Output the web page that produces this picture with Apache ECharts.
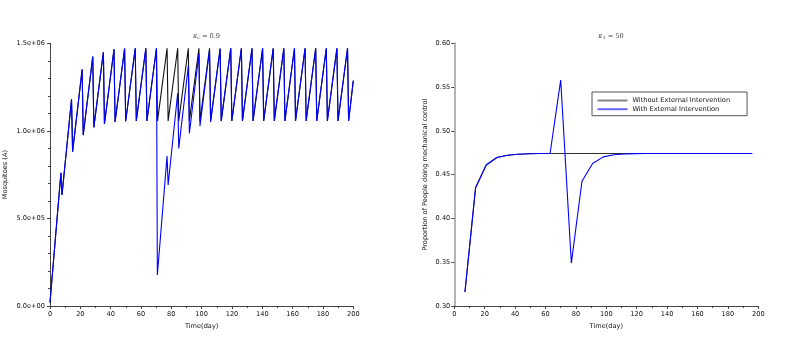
<!DOCTYPE html>
<html>
<head>
<meta charset="utf-8">
<script src="https://cdn.jsdelivr.net/npm/echarts@6/dist/echarts.min.js"></script>
<style>html,body{margin:0;padding:0;background:#fff}#c{width:809px;height:350px}</style>
</head>
<body>
<div id="c"></div>
<script>
// ---- Left panel: Mosquitoes (A) ----
var mosqDays = [0, 7.2, 7.9, 14.2, 14.9, 21.2, 21.9, 28.2, 28.9, 35.2, 35.9, 42.2, 42.9, 49.2, 49.9,
  56.2, 56.9, 63.2, 63.9, 70.2, 70.9, 77.2, 77.9, 84.2, 84.9, 91.2, 91.9, 98.2, 98.9, 105.2, 105.9,
  112.2, 112.9, 119.2, 119.9, 126.2, 126.9, 133.2, 133.9, 140.2, 140.9, 147.2, 147.9, 154.2, 154.9,
  161.2, 161.9, 168.2, 168.9, 175.2, 175.9, 182.2, 182.9, 189.2, 189.9, 196.2, 196.9, 200];
var mosqWithout = [20000, 761000, 634000, 1180000, 881000, 1351000, 976000, 1424000, 1020000, 1450000, 1039000, 1466000, 1051000, 1470000, 1055000,
  1472000, 1057000, 1472000, 1057000, 1472000, 1057000, 1472000, 1057000, 1472000, 1057000, 1472000, 1057000, 1472000, 1057000, 1472000, 1057000,
  1472000, 1057000, 1472000, 1057000, 1472000, 1057000, 1472000, 1057000, 1472000, 1057000, 1472000, 1057000, 1472000, 1057000,
  1472000, 1057000, 1472000, 1057000, 1472000, 1057000, 1472000, 1057000, 1472000, 1057000, 1472000, 1057000, 1287000];
var mosqWithDays = [0, 7.2, 7.9, 14.2, 14.9, 21.2, 21.9, 28.2, 28.9, 35.2, 35.9, 42.2, 42.9, 49.2, 49.9,
  56.2, 56.9, 63.2, 63.9, 70.2, 70.8, 77.2, 77.9, 84.2, 84.9, 91.2, 91.9, 98.2, 98.9, 105.2, 105.9,
  112.2, 112.9, 119.2, 119.9, 126.2, 126.9, 133.2, 133.9, 140.2, 140.9, 147.2, 147.9, 154.2, 154.9,
  161.2, 161.9, 168.2, 168.9, 175.2, 175.9, 182.2, 182.9, 189.2, 189.9, 196.2, 196.9, 200];
var mosqWith = [20000, 761000, 634000, 1180000, 881000, 1351000, 976000, 1424000, 1020000, 1450000, 1039000, 1466000, 1051000, 1470000, 1055000,
  1472000, 1057000, 1472000, 1057000, 1472000, 177000, 857000, 691000, 1215000, 900000, 1370000, 986000, 1440000, 1028000, 1460000, 1050000,
  1468000, 1056000, 1472000, 1057000, 1472000, 1057000, 1472000, 1057000, 1472000, 1057000, 1472000, 1057000, 1472000, 1057000,
  1472000, 1057000, 1472000, 1057000, 1472000, 1057000, 1472000, 1057000, 1472000, 1057000, 1472000, 1057000, 1287000];

// ---- Right panel: proportion doing mechanical control ----
var propDays = [7, 14, 21, 28, 35, 42, 49, 56, 63, 70, 77, 84, 91, 98, 105, 112, 119, 126, 133, 140,
  147, 154, 161, 168, 175, 182, 189, 196];
var propWithout = [0.316, 0.435, 0.461, 0.4695, 0.4722, 0.4733, 0.4738, 0.4741, 0.4742, 0.4742, 0.4742, 0.4742, 0.4742, 0.4742,
  0.4742, 0.4742, 0.4742, 0.4742, 0.4742, 0.4742, 0.4742, 0.4742, 0.4742, 0.4742, 0.4742, 0.4742, 0.4742, 0.4742];
var propWith = [0.316, 0.435, 0.461, 0.4695, 0.4722, 0.4733, 0.4738, 0.4741, 0.4742, 0.558, 0.349, 0.4425, 0.4628, 0.4703,
  0.4727, 0.4736, 0.474, 0.4742, 0.4742, 0.4742, 0.4742, 0.4742, 0.4742, 0.4742, 0.4742, 0.4742, 0.4742, 0.4742];

var xTicks = [0, 20, 40, 60, 80, 100, 120, 140, 160, 180, 200];
var leftYTicks = [0, 500000, 1000000, 1500000];
var rightYTicks = [0.30, 0.35, 0.40, 0.45, 0.50, 0.55, 0.60];
var legendNames = ['Without External Intervention', 'With External Intervention'];

function pairs(xs, ys) { return xs.map(function (x, i) { return [x, ys[i]]; }); }
function sciFmt(v) {
  return v.toExponential(1).replace(/e([+-])(\d)$/, 'e$10$2');
}

var FONT = 'DejaVu Sans';
var FS = 6.6;
var labelStyle = { fontFamily: FONT, fontSize: FS, color: '#111' };

function xAxisCfg(gi) {
  return {
    type: 'value', gridIndex: gi, min: xTicks[0], max: xTicks[xTicks.length - 1], interval: xTicks[1] - xTicks[0],
    name: 'Time(day)', nameLocation: 'middle', nameGap: 17,
    nameTextStyle: { fontFamily: FONT, fontSize: FS, color: '#111', verticalAlign: 'top' },
    axisLine: { show: true, lineStyle: { color: '#444', width: 1 } },
    axisTick: { show: true, length: 3, lineStyle: { color: '#444' } },
    minorTick: { show: true, splitNumber: 2, length: 2, lineStyle: { color: '#444' } },
    splitLine: { show: false },
    axisLabel: Object.assign({ margin: 5 }, labelStyle)
  };
}

var option = {
  animation: false,
  backgroundColor: '#fff',
  title: [
    { text: '{i|κ}{s|c} = 0.9', left: 201.5, top: 27, textAlign: 'center',
      textStyle: { fontFamily: 'DejaVu Serif', fontSize: FS, color: '#444', fontWeight: 'normal',
        rich: { i: { fontFamily: 'DejaVu Serif', fontStyle: 'italic', fontSize: FS, color: '#444' },
                s: { fontFamily: 'DejaVu Serif', fontStyle: 'italic', fontSize: 4.5, color: '#444', verticalAlign: 'bottom', padding: [3, 0, 0, 0] } } } },
    { text: '{i|κ}{s|1} = 50', left: 606, top: 27, textAlign: 'center',
      textStyle: { fontFamily: 'DejaVu Serif', fontSize: FS, color: '#444', fontWeight: 'normal',
        rich: { i: { fontFamily: 'DejaVu Serif', fontStyle: 'italic', fontSize: FS, color: '#444' },
                s: { fontFamily: 'DejaVu Serif', fontSize: 4.5, color: '#444', verticalAlign: 'bottom', padding: [3, 0, 0, 0] } } } }
  ],
  legend: {
    data: legendNames,
    orient: 'vertical',
    left: 592, top: 92,
    padding: [5, 17, 3, 4.5],
    itemWidth: 30, itemHeight: 7, itemGap: 1.7,
    backgroundColor: '#fff', borderColor: '#555', borderWidth: 1, borderRadius: 0,
    textStyle: { fontFamily: FONT, fontSize: FS, color: '#111' },
    itemStyle: { opacity: 0 },
    lineStyle: { width: 2, opacity: 0.6 },
    selectedMode: false
  },
  grid: [
    { left: 50, right: 455.7, top: 43.3, bottom: 44, containLabel: false },
    { left: 454.3, right: 50.7, top: 43.3, bottom: 44, containLabel: false }
  ],
  xAxis: [xAxisCfg(0), xAxisCfg(1)],
  yAxis: [
    { type: 'value', gridIndex: 0, min: leftYTicks[0], max: leftYTicks[leftYTicks.length - 1], interval: leftYTicks[1] - leftYTicks[0],
      name: 'Mosquitoes (A)', nameLocation: 'middle', nameGap: 41,
      nameTextStyle: { fontFamily: FONT, fontSize: FS, color: '#111' },
      axisLine: { show: true, lineStyle: { color: '#444', width: 1 } },
      axisTick: { show: true, length: 3, lineStyle: { color: '#444' } },
      minorTick: { show: true, splitNumber: 5, length: 2, lineStyle: { color: '#444' } },
      splitLine: { show: false },
      axisLabel: Object.assign({ margin: 5, formatter: sciFmt }, labelStyle) },
    { type: 'value', gridIndex: 1, min: rightYTicks[0], max: rightYTicks[rightYTicks.length - 1], interval: 0.05,
      name: 'Proportion of People doing mechanical control', nameLocation: 'middle', nameGap: 26,
      nameTextStyle: { fontFamily: FONT, fontSize: FS, color: '#111' },
      axisLine: { show: true, lineStyle: { color: '#b4b4b4', width: 2 } },
      axisTick: { show: true, length: 3, lineStyle: { color: '#444' } },
      splitLine: { show: false },
      axisLabel: Object.assign({ margin: 4, formatter: function (v) { return v.toFixed(2); } }, labelStyle) }
  ],
  series: [
    { name: 'A without', type: 'line', xAxisIndex: 0, yAxisIndex: 0, symbol: 'none', silent: true,
      lineStyle: { color: '#111', width: 1.1 }, itemStyle: { color: '#111' }, data: pairs(mosqDays, mosqWithout) },
    { name: 'A with', type: 'line', xAxisIndex: 0, yAxisIndex: 0, symbol: 'none', silent: true,
      lineStyle: { color: '#0000ff', width: 1.1 }, itemStyle: { color: '#0000ff' }, data: pairs(mosqWithDays, mosqWith) },
    { name: legendNames[0], type: 'line', xAxisIndex: 1, yAxisIndex: 1, symbol: 'none', silent: true,
      lineStyle: { color: '#333', width: 1.1 }, itemStyle: { color: '#333' }, data: pairs(propDays, propWithout) },
    { name: legendNames[1], type: 'line', xAxisIndex: 1, yAxisIndex: 1, symbol: 'none', silent: true,
      lineStyle: { color: '#0000ff', width: 1.1 }, itemStyle: { color: '#0000ff' }, data: pairs(propDays, propWith) }
  ]
};
var chart = echarts.init(document.getElementById('c'), null, { renderer: 'canvas' });
chart.setOption(option);
</script>
</body>
</html>
